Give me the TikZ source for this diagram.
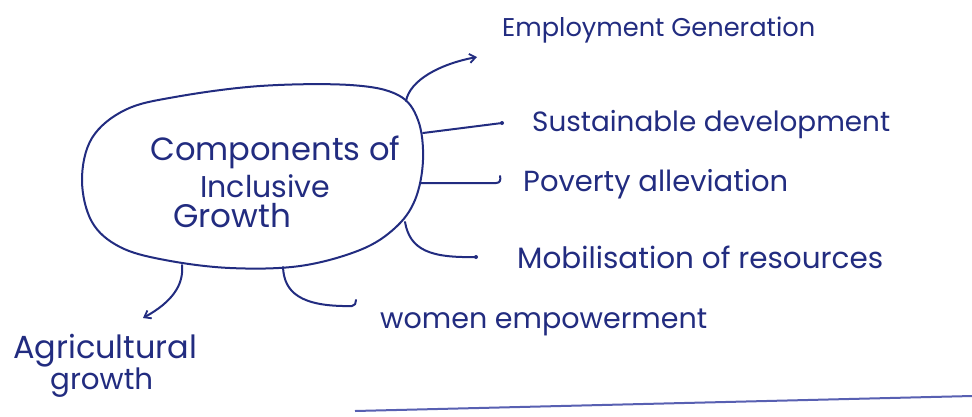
\documentclass[tikz,border=0pt]{standalone}
\usepackage{fontspec}
\usepackage{graphicx}
\setmainfont{Poppins}
\usetikzlibrary{arrows.meta}
\definecolor{ink}{RGB}{34,44,128}
\definecolor{rule}{RGB}{88,96,178}
% set a label at a given width
\newcommand{\fitw}[2]{\resizebox{#1pt}{!}{#2}}
\tikzset{
  hand/.style={font=\fontsize{28}{32}\selectfont, text=ink, inner sep=0pt},
  stroke/.style={draw=ink, line width=2pt, line cap=round, line join=round},
  barb/.style={stroke, -{Straight Barb[length=6pt,width=9pt,line width=1.8pt]}},
  inkdot/.style={circle, fill=ink, inner sep=0pt, minimum size=4pt}
}
\begin{document}
\begin{tikzpicture}[x=1pt,y=-1pt]
\useasboundingbox (0,0) rectangle (972,416);
\fill[white] (0,0) rectangle (972,416);

% central title
\node[hand, anchor=west] (core1) at (150,152) {\fitw{250}{Components of}};
\node[hand, anchor=west] (core2) at (200,186) {\fitw{130}{Inclusive}};
\node[hand, anchor=west] (core3) at (173,216) {\fitw{118}{Growth}};

% egg-shaped outline around the title
\draw[stroke] plot[smooth cycle, tension=0.6] coordinates {
  (82,180) (92,138) (125,110) (175,97) (260,86) (350,85) (398,95)
  (418,120) (423,160) (415,200) (395,228) (360,250) (300,266)
  (230,268) (165,260) (120,247) (92,222)};

% points where the branches leave the outline
\coordinate (oEmp) at (406,101);
\coordinate (oSus) at (423,133);
\coordinate (oPov) at (421,183);
\coordinate (oMob) at (405,222);
\coordinate (oWom) at (283,267);
\coordinate (oAgr) at (182,265);

% branch labels
\node[hand, anchor=west] (emp) at (502,30) {\fitw{313}{Employment Generation}};
\node[hand, anchor=west] (sus) at (532,125) {\fitw{358}{Sustainable development}};
\node[hand, anchor=west] (pov) at (523,184) {\fitw{265}{Poverty alleviation}};
\node[hand, anchor=west] (mob) at (517,257) {\fitw{366}{Mobilisation of resources}};
\node[hand, anchor=west] (wom) at (380,322) {\fitw{327}{women empowerment}};
\node[hand, anchor=north west] (agr1) at (13,334) {\fitw{184}{Agricultural}};
\node[hand, anchor=north west] (agr2) at (50,368) {\fitw{103}{growth}};

% free ends of the branches
\coordinate (tEmp) at (477,57);
\coordinate (tSus) at (502,123);
\coordinate (tPov) at (496,183);
\coordinate (tMob) at (476,257);
\coordinate (tWom) at (352,306);
\coordinate (tAgr) at (143,318);

% branches
\draw[barb] (oEmp) .. controls (410,80) and (440,64) .. (tEmp);
\draw[stroke] (oSus) -- (tSus);
\node[inkdot] (dSus) at (tSus) {};
\draw[stroke] (oPov) -- (tPov) .. controls (500,183) and (501,180) .. (500,176);
\draw[stroke] (oMob) .. controls (410,250) and (430,258) .. (tMob);
\node[inkdot] (dMob) at (tMob) {};
\draw[stroke] (oWom) .. controls (284,292) and (300,307) .. (tWom)
  .. controls (355,306) and (356,303) .. (356,300);
\draw[barb] (oAgr) .. controls (184,285) and (172,302) .. (tAgr);

% ruled line near the foot of the page
\coordinate (rA) at (355,411);
\coordinate (rB) at (972,396);
\draw[draw=rule, line width=2pt] (rA) -- (rB);
\end{tikzpicture}
\end{document}
